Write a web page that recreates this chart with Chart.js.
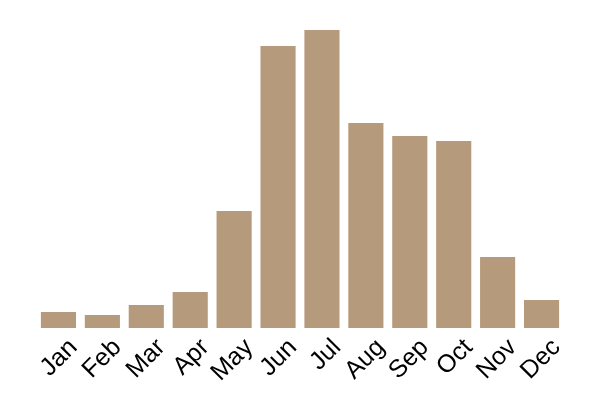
<!DOCTYPE html>
<html>
<head>
<meta charset="utf-8">
<script src="https://cdn.jsdelivr.net/npm/chart.js@4"></script>
<style>
html,body{margin:0;padding:0;background:#fff;}
#wrap{width:600px;height:400px;}
</style>
</head>
<body>
<div id="wrap"><canvas id="c" width="600" height="400"></canvas></div>
<script>
const months = ["Jan","Feb","Mar","Apr","May","Jun","Jul","Aug","Sep","Oct","Nov","Dec"];
const values = [16,13,23,36,117,282,298,205,192,187,71,28];
const barColor = "#b59b7c";

new Chart(document.getElementById('c'), {
  type: 'bar',
  data: {
    labels: months,
    datasets: [{ data: values, backgroundColor: barColor, borderWidth: 0,
      barPercentage: 0.8, categoryPercentage: 1.0 }]
  },
  options: {
    responsive: false,
    animation: false,
    devicePixelRatio: 1,
    layout: { padding: { left: 36.5, right: 36.5, top: 18, bottom: 0 } },
    plugins: { legend: { display: false }, tooltip: { enabled: false } },
    scales: {
      y: { display: false, min: 0, max: 310 },
      x: {
        grid: { display: false, drawTicks: false },
        border: { display: false },
        afterFit: (s) => { s.height = 72; },
        ticks: {
          autoSkip: false,
          minRotation: 45, maxRotation: 45,
          labelOffset: 15,
          padding: 5,
          color: '#000',
          font: { family: 'Liberation Sans, Arial, sans-serif', size: 25 }
        }
      }
    }
  }
});
</script>
</body>
</html>
